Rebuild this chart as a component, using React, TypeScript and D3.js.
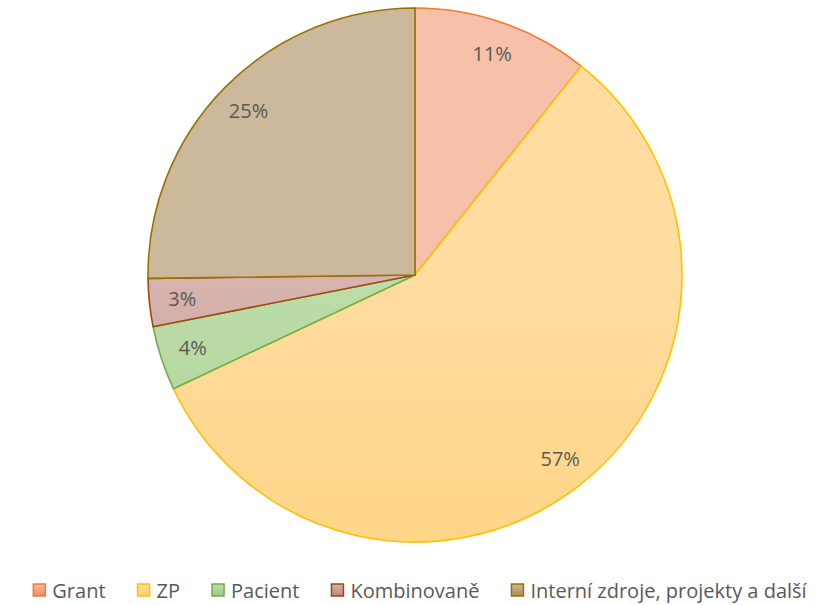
import React, { useEffect, useRef } from "react";
import * as d3 from "d3";

const categories = ["Grant", "ZP", "Pacient", "Kombinovaně", "Interní zdroje, projekty a další"];
const values = [10.7, 57.3, 3.9, 2.9, 25.2];
const lineColors = ["#ed7d31", "#ffc000", "#70ad47", "#9e480e", "#997300"];
const topColors = ["#f7c0a8", "#ffdc9f", "#bcdca8", "#d6b3ad", "#ccb89b"];
const bottomColors = ["#f18a62", "#ffd070", "#9fca82", "#bf8980", "#ad8a5c"];

const W = 826;
const H = 605;

const App = () => {
  const ref = useRef<SVGSVGElement>(null);

  useEffect(() => {
    const svg = d3.select(ref.current);
    svg.selectAll("*").remove();

    const cx = 415;
    const cy = 275;
    const r = 267;
    const font = "'Open Sans', sans-serif";

    const defs = svg.append("defs");
    categories.forEach((_, i) => {
      const g = defs.append("linearGradient")
        .attr("id", "grad" + i)
        .attr("gradientUnits", "userSpaceOnUse")
        .attr("x1", 0).attr("x2", 0)
        .attr("y1", cy - r).attr("y2", cy + r);
      g.append("stop").attr("offset", 0).attr("stop-color", topColors[i]);
      g.append("stop").attr("offset", 1).attr("stop-color", bottomColors[i]);
      const lg = defs.append("linearGradient")
        .attr("id", "lgrad" + i)
        .attr("x1", 0).attr("x2", 0).attr("y1", 0).attr("y2", 1);
      lg.append("stop").attr("offset", 0).attr("stop-color", topColors[i]);
      lg.append("stop").attr("offset", 1).attr("stop-color", bottomColors[i]);
    });

    const pie = d3.pie<number>().sort(null).value(d => d);
    const arcs = pie(values);
    const arc = d3.arc<d3.PieArcDatum<number>>().innerRadius(0).outerRadius(r);
    const labelArc = d3.arc<d3.PieArcDatum<number>>().innerRadius(234).outerRadius(234);
    const total = d3.sum(values);

    const g = svg.append("g").attr("transform", `translate(${cx},${cy})`);

    g.selectAll("path")
      .data(arcs)
      .enter()
      .append("path")
      .attr("d", arc)
      .attr("fill", (_, i) => `url(#grad${i})`)
      .attr("stroke", (_, i) => lineColors[i])
      .attr("stroke-width", 1.6)
      .attr("stroke-linejoin", "round");

    g.selectAll("text")
      .data(arcs)
      .enter()
      .append("text")
      .attr("transform", d => `translate(${labelArc.centroid(d)})`)
      .attr("text-anchor", "middle")
      .attr("dy", "0.36em")
      .attr("font-family", font)
      .attr("font-size", 20)
      .attr("fill", "#595959")
      .text(d => Math.round((d.data / total) * 100) + "%");

    // Legend
    const legend = svg.append("g");
    const box = 12;
    const gapText = 7;
    const gapItem = 32;
    const items = categories.map((c, i) => {
      const item = legend.append("g");
      item.append("rect")
        .attr("width", box).attr("height", box)
        .attr("y", 584)
        .attr("fill", `url(#lgrad${i})`)
        .attr("stroke", lineColors[i])
        .attr("stroke-width", 1.5);
      const t = item.append("text")
        .attr("x", box + gapText)
        .attr("y", 598)
        .attr("font-family", font)
        .attr("font-size", 20)
        .attr("fill", "#595959")
        .text(c);
      const w = (t.node() as SVGTextElement).getComputedTextLength();
      return { item, w: box + gapText + w };
    });
    const totalW = d3.sum(items, d => d.w) + gapItem * (items.length - 1);
    let x = 420 - totalW / 2;
    items.forEach(d => {
      d.item.attr("transform", `translate(${x},0)`);
      x += d.w + gapItem;
    });
  }, []);

  return (
    <svg
      ref={ref}
      width={W}
      height={H}
      style={{ position: "absolute", left: 0, top: 0, background: "#fff" }}
    />
  );
};

export default App;
